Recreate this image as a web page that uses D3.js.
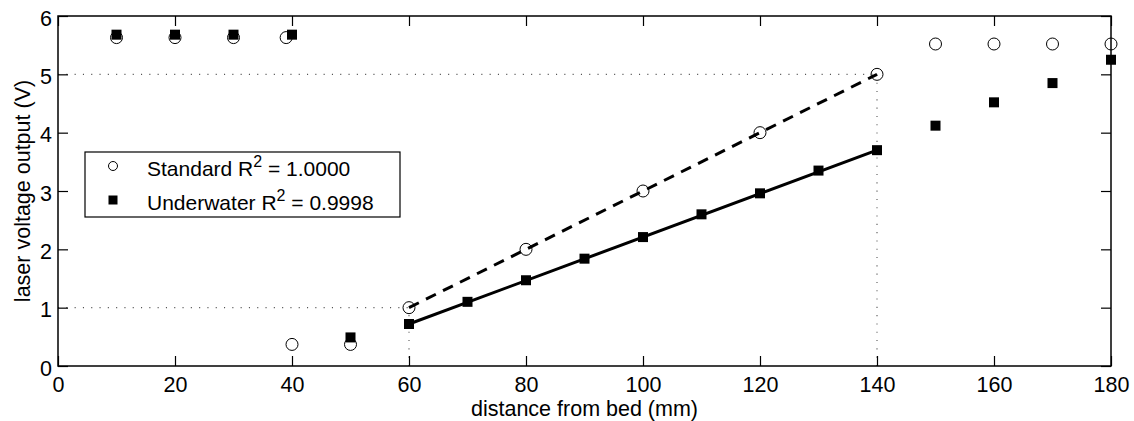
<!DOCTYPE html>
<html>
<head>
<meta charset="utf-8">
<script src="https://cdn.jsdelivr.net/npm/d3@7"></script>
<style>
  html, body { margin: 0; padding: 0; background: #fff; }
  svg { display: block; font-family: "Liberation Sans", Arial, Helvetica, sans-serif; }
</style>
</head>
<body>
<svg id="chart" width="1134" height="421"></svg>
<script>
// Standard calibration readings (distance mm, voltage V)
const standardX = [10, 20, 30, 39, 40, 50, 60, 80, 100, 120, 140, 150, 160, 170, 180];
const standardY = [5.63, 5.63, 5.63, 5.63, 0.37, 0.37, 1.0, 2.0, 3.0, 4.0, 5.0, 5.52, 5.52, 5.52, 5.52];

// Underwater calibration readings
const underwaterX = [10, 20, 30, 40, 50, 60, 70, 80, 90, 100, 110, 120, 130, 140, 150, 160, 170, 180];
const underwaterY = [5.68, 5.68, 5.68, 5.68, 0.49, 0.72, 1.10, 1.47, 1.84, 2.21, 2.60, 2.96, 3.35, 3.70, 4.12, 4.52, 4.85, 5.25];

// Linear fit ranges (endpoints of the linear region)
const standardFitX = [60, 140];
const standardFitY = [1.0, 5.0];
const underwaterFitX = [60, 140];
const underwaterFitY = [0.72, 3.70];

// Axis ticks
const xTicks = [0, 20, 40, 60, 80, 100, 120, 140, 160, 180];
const yTicks = [0, 1, 2, 3, 4, 5, 6];

const legendLabels = ["Standard R", "Underwater R"];
const legendValues = ["1.0000", "0.9998"];

const svg = d3.select("#chart");
const plotL = 58, plotR = 1111, plotT = 16, plotB = 366;

const x = d3.scaleLinear().domain([0, 180]).range([plotL, plotR]);
const y = d3.scaleLinear().domain([0, 6]).range([plotB, plotT]);

const fontSize = 21.5;
const legendFont = 21;

// Dotted guide lines marking the linear range
const guides = svg.append("g")
  .attr("stroke", "#555").attr("stroke-width", 1.1).attr("stroke-dasharray", "1.1,7.2").attr("fill", "none");
guides.append("line").attr("x1", x(0)).attr("x2", x(standardFitX[1])).attr("y1", y(standardFitY[1])).attr("y2", y(standardFitY[1]));
guides.append("line").attr("x1", x(0)).attr("x2", x(standardFitX[0])).attr("y1", y(standardFitY[0])).attr("y2", y(standardFitY[0]));
guides.append("line").attr("x1", x(standardFitX[0])).attr("x2", x(standardFitX[0])).attr("y1", y(0)).attr("y2", y(standardFitY[0]));
guides.append("line").attr("x1", x(standardFitX[1])).attr("x2", x(standardFitX[1])).attr("y1", y(0)).attr("y2", y(standardFitY[1]));

// Fit lines
svg.append("line")
  .attr("x1", x(standardFitX[0])).attr("y1", y(standardFitY[0]))
  .attr("x2", x(standardFitX[1])).attr("y2", y(standardFitY[1]))
  .attr("stroke", "#000").attr("stroke-width", 3).attr("stroke-dasharray", "11,8");
svg.append("line")
  .attr("x1", x(underwaterFitX[0])).attr("y1", y(underwaterFitY[0]))
  .attr("x2", x(underwaterFitX[1])).attr("y2", y(underwaterFitY[1]))
  .attr("stroke", "#000").attr("stroke-width", 3);

// Markers
const sq = 10;
svg.append("g").selectAll("rect")
  .data(underwaterX.map((d, i) => [d, underwaterY[i]]))
  .join("rect")
  .attr("x", d => x(d[0]) - sq / 2).attr("y", d => y(d[1]) - sq / 2)
  .attr("width", sq).attr("height", sq).attr("fill", "#000");

svg.append("g").selectAll("circle")
  .data(standardX.map((d, i) => [d, standardY[i]]))
  .join("circle")
  .attr("cx", d => x(d[0])).attr("cy", d => y(d[1])).attr("r", 6)
  .attr("fill", "none").attr("stroke", "#000").attr("stroke-width", 1);

// Axes box
svg.append("rect").attr("x", plotL).attr("y", plotT).attr("width", plotR - plotL).attr("height", plotB - plotT)
  .attr("fill", "none").attr("stroke", "#000").attr("stroke-width", 1.5);

// Inward ticks on all four sides
const tickLen = 10;
const fmt = d3.format("d");
const xAxisB = d3.axisBottom(x).tickValues(xTicks).tickFormat(fmt).tickSizeInner(-tickLen).tickSizeOuter(0).tickPadding(11);
const gxb = svg.append("g").attr("transform", `translate(0,${plotB})`).call(xAxisB);
const xAxisT = d3.axisTop(x).tickValues(xTicks).tickSizeInner(-tickLen).tickSizeOuter(0).tickFormat("");
const gxt = svg.append("g").attr("transform", `translate(0,${plotT})`).call(xAxisT);
const yAxisL = d3.axisLeft(y).tickValues(yTicks).tickFormat(fmt).tickSizeInner(-tickLen).tickSizeOuter(0).tickPadding(6);
const gyl = svg.append("g").attr("transform", `translate(${plotL},0)`).call(yAxisL);
const yAxisR = d3.axisRight(y).tickValues(yTicks).tickSizeInner(-tickLen).tickSizeOuter(0).tickFormat("");
const gyr = svg.append("g").attr("transform", `translate(${plotR},0)`).call(yAxisR);

[gxb, gxt, gyl, gyr].forEach(g => {
  g.select(".domain").remove();
  g.selectAll(".tick line").attr("stroke", "#000").attr("stroke-width", 1.2);
  g.selectAll("text").attr("font-size", fontSize).attr("font-family", null).attr("fill", "#000");
});
gyl.selectAll("text").attr("dy", "0.42em");

// Axis labels
svg.append("text")
  .attr("x", (plotL + plotR) / 2).attr("y", 416)
  .attr("text-anchor", "middle").attr("font-size", fontSize)
  .text("distance from bed (mm)");
svg.append("text")
  .attr("transform", `translate(30,${(plotT + plotB) / 2}) rotate(-90)`)
  .attr("text-anchor", "middle").attr("font-size", fontSize)
  .text("laser voltage output (V)");

// Legend
const lg = svg.append("g");
lg.append("rect").attr("x", 85).attr("y", 152).attr("width", 315).attr("height", 65)
  .attr("fill", "#fff").attr("stroke", "#000").attr("stroke-width", 1.2);
lg.append("circle").attr("cx", 113).attr("cy", 166).attr("r", 4.5)
  .attr("fill", "none").attr("stroke", "#000").attr("stroke-width", 1);
lg.append("rect").attr("x", 113 - 4.5).attr("y", 200 - 4.5).attr("width", 9).attr("height", 9).attr("fill", "#000");
[0, 1].forEach(i => {
  const t = lg.append("text").attr("x", 147).attr("y", 176 + i * 34).attr("font-size", legendFont);
  t.append("tspan").text(legendLabels[i]);
  t.append("tspan").attr("font-size", 16).attr("dy", -9).text("2");
  t.append("tspan").attr("dy", 9).text(" = " + legendValues[i]);
});
</script>
</body>
</html>
